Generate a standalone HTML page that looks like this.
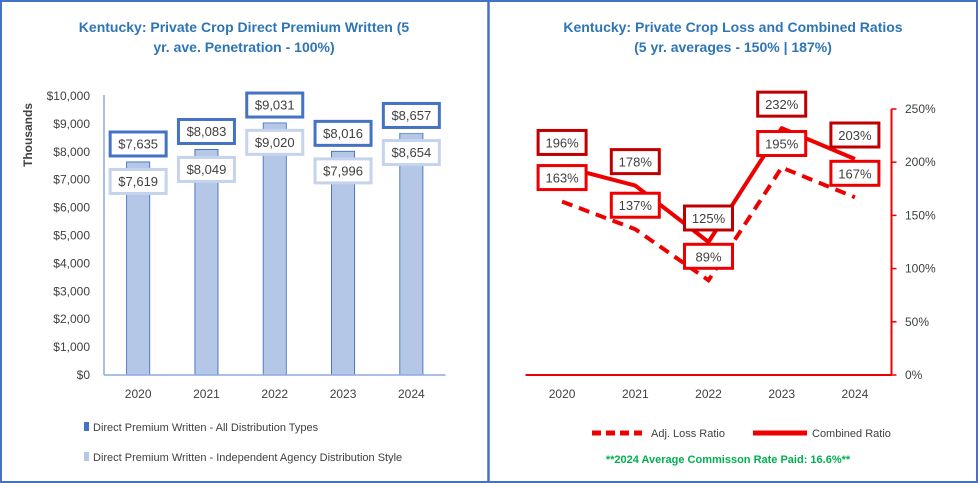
<!DOCTYPE html>
<html><head><meta charset="utf-8"><style>
html,body{margin:0;padding:0;background:#fff}
svg{display:block;font-family:"Liberation Sans",sans-serif}
</style></head><body>
<svg width="978" height="483" viewBox="0 0 978 483">
<rect x="1" y="1" width="976" height="481" fill="#fff" stroke="#4472c4" stroke-width="2"/>
<line x1="488.5" y1="0" x2="488.5" y2="483" stroke="#4472c4" stroke-width="2.5"/>
<g id="left">
<text x="244" y="32" text-anchor="middle" font-size="14" font-weight="bold" fill="#2e75b6">Kentucky: Private Crop Direct Premium Written (5</text>
<text x="244" y="52" text-anchor="middle" font-size="14" font-weight="bold" fill="#2e75b6">yr. ave. Penetration - 100%)</text>
<text transform="translate(32,135) rotate(-90)" text-anchor="middle" font-size="12" font-weight="bold" fill="#404040">Thousands</text>
</g>
<g id="right">
<text x="733" y="32" text-anchor="middle" font-size="14" font-weight="bold" fill="#2e75b6">Kentucky: Private Crop Loss and Combined Ratios</text>
<text x="733" y="52" text-anchor="middle" font-size="14" font-weight="bold" fill="#2e75b6">(5 yr. averages - 150% | 187%)</text>
</g>
<g>
<rect x="84" y="422" width="5" height="9" fill="#4472c4"/>
<text x="93" y="431" font-size="11" fill="#404040">Direct Premium Written - All Distribution Types</text>
<rect x="84" y="452" width="5" height="9" fill="#b4c7e7"/>
<text x="93" y="461" font-size="11" fill="#404040">Direct Premium Written - Independent Agency Distribution Style</text>
</g>
<g>
<line x1="592" y1="433" x2="642" y2="433" stroke="#ee0000" stroke-width="5" stroke-dasharray="9,5"/>
<text x="651" y="437" font-size="11" fill="#404040">Adj. Loss Ratio</text>
<line x1="753" y1="433" x2="807" y2="433" stroke="#ee0000" stroke-width="5"/>
<text x="812" y="437" font-size="11" fill="#404040">Combined Ratio</text>
<text x="728" y="463" text-anchor="middle" font-size="11" font-weight="bold" fill="#00b050">**2024 Average Commisson Rate Paid: 16.6%**</text>
</g>
</svg>
<script>
const years = ['2020','2021','2022','2023','2024'];
const premiumAll = [7635, 8083, 9031, 8016, 8657];
const premiumIndep = [7619, 8049, 9020, 7996, 8654];
const premiumTicks = [0,1000,2000,3000,4000,5000,6000,7000,8000,9000,10000];
const lossRatio = [163, 137, 89, 195, 167];
const combinedRatio = [196, 178, 125, 232, 203];
const ratioTicks = [0,50,100,150,200,250];

const NS='http://www.w3.org/2000/svg';
const svg=document.querySelector('svg');
function mk(tag,attrs,parent,text){const e=document.createElementNS(NS,tag);for(const k in attrs)e.setAttribute(k,attrs[k]);if(text!==undefined)e.textContent=text;(parent||svg).appendChild(e);return e;}
const fmt=v=>'$'+v.toLocaleString('en-US');

const L={x0:104,x1:445.5,y0:375,y1:96,max:10000};
const ly=v=>L.y0-(v/L.max)*(L.y0-L.y1);
const lband=(L.x1-L.x0)/years.length;
const lx=i=>L.x0+lband*(i+0.5);
const gl=document.getElementById('left');
premiumTicks.forEach(t=>{
  const e=mk('text',{x:90,y:ly(t)+4,'text-anchor':'end','font-size':12,fill:'#404040'},gl,fmt(t));
  
  
});
years.forEach((y,i)=>{
  const e=mk('text',{x:lx(i),y:398,'text-anchor':'middle','font-size':12,fill:'#404040'},gl,y);
  
  
  const b1=mk('rect',{x:lx(i)-11.5,y:ly(premiumAll[i]),width:23,height:L.y0-ly(premiumAll[i]),fill:'#b4c7e7',stroke:'#4472c4','stroke-width':1},gl);
  
  
  const b2=mk('rect',{x:lx(i)-11,y:ly(premiumIndep[i]),width:22,height:L.y0-ly(premiumIndep[i]),fill:'#b4c7e7'},gl);
  
  
});
const ax1=mk('line',{x1:L.x0,y1:L.y1-1,x2:L.x0,y2:L.y0,stroke:'#8faadc','stroke-width':1.5},gl);


const ax2=mk('line',{x1:L.x0,y1:L.y0,x2:L.x1,y2:L.y0,stroke:'#8faadc','stroke-width':1.5},gl);


years.forEach((y,i)=>{
  const ta=ly(premiumAll[i]);
  const r1=mk('rect',{x:lx(i)-28,y:ta-30,width:56,height:24,fill:'#fff',stroke:'#4472c4','stroke-width':3},gl);
  
  
  const t1=mk('text',{x:lx(i),y:ta-13.5,'text-anchor':'middle','font-size':13,fill:'#404040'},gl,fmt(premiumAll[i]));
  
  
  const tb=ly(premiumIndep[i]);
  const r2=mk('rect',{x:lx(i)-28,y:tb+7,width:56,height:24,fill:'#fff',stroke:'#c5d3ec','stroke-width':3},gl);
  
  
  const t2=mk('text',{x:lx(i),y:tb+23.5,'text-anchor':'middle','font-size':13,fill:'#404040'},gl,fmt(premiumIndep[i]));
  
  
});

const R={x0:525.5,x1:891.5,y0:375,y1:109,max:250};
const ry=v=>R.y0-(v/R.max)*(R.y0-R.y1);
const rband=(R.x1-R.x0)/years.length;
const rx=i=>R.x0+rband*(i+0.5);
const gr=document.getElementById('right');
ratioTicks.forEach(t=>{
  const tk=mk('line',{x1:R.x1,y1:ry(t),x2:R.x1+5,y2:ry(t),stroke:'#ee0000','stroke-width':1.5},gr);
  
  
  const e=mk('text',{x:905,y:ry(t)+4,'font-size':12,fill:'#404040'},gr,t+'%');
  
  
});
years.forEach((y,i)=>{
  const e=mk('text',{x:rx(i),y:398,'text-anchor':'middle','font-size':12,fill:'#404040'},gr,y);
  
  
});
const rax=mk('line',{x1:R.x1,y1:R.y1,x2:R.x1,y2:R.y0,stroke:'#ee0000','stroke-width':2},gr);


const rxa=mk('line',{x1:R.x0,y1:R.y0,x2:R.x1,y2:R.y0,stroke:'#ee0000','stroke-width':2},gr);


const pts=a=>a.map((v,i)=>rx(i)+','+ry(v)).join(' ');
const lp=mk('polyline',{points:pts(lossRatio),fill:'none',stroke:'#ee0000','stroke-width':4,'stroke-dasharray':'11,7'},gr);


const cp=mk('polyline',{points:pts(combinedRatio),fill:'none',stroke:'#ee0000','stroke-width':4,'stroke-linejoin':'round'},gr);


function lbl(v,i,col,name){
  const yy=ry(v);
  const r=mk('rect',{x:rx(i)-24,y:yy-36,width:48,height:24,fill:'#fff',stroke:col,'stroke-width':3},gr);
  
  
  const t=mk('text',{x:rx(i),y:yy-19,'text-anchor':'middle','font-size':13,fill:'#404040'},gr,v+'%');
  
  
}
years.forEach((y,i)=>{lbl(lossRatio[i],i,'#ee0000','label-loss-'+y);});
years.forEach((y,i)=>{lbl(combinedRatio[i],i,'#c00000','label-combined-'+y);});
</script>
</body></html>
